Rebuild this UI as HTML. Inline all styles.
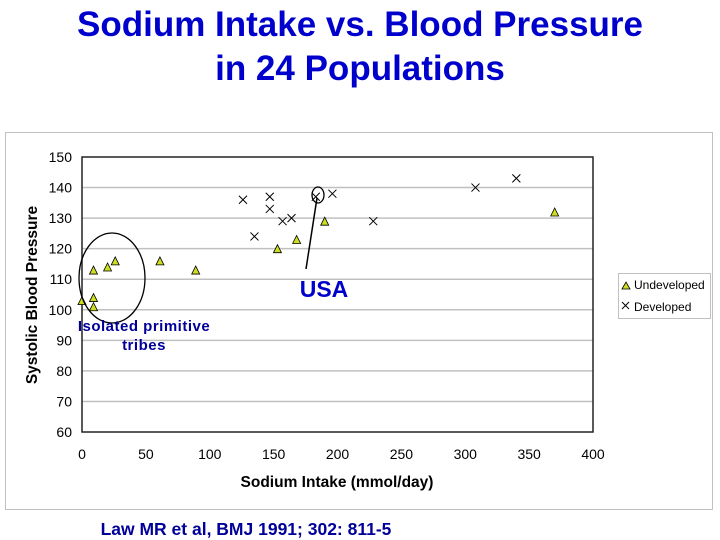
<!DOCTYPE html>
<html><head><meta charset="utf-8"><style>
body{margin:0;width:720px;height:540px;background:#fff;overflow:hidden;font-family:"Liberation Sans",Arial,sans-serif}
svg{display:block}
</style></head><body>
<svg id="chart" width="720" height="540">
<text x="360" y="36" text-anchor="middle" font-size="35" font-weight="bold" fill="#0000cc">Sodium Intake vs. Blood Pressure</text>
<text x="360" y="80" text-anchor="middle" font-size="35" font-weight="bold" fill="#0000cc">in 24 Populations</text>
<rect x="5.5" y="132.5" width="707" height="377" fill="#fff" stroke="#c0c0c0"/>
<g id="grid"></g>
<g id="axes"></g>
<g id="marks"></g>
<text transform="translate(37,295) rotate(-90)" text-anchor="middle" font-size="15.5" font-weight="bold" fill="#000">Systolic Blood Pressure</text>
<text x="337" y="487" text-anchor="middle" font-size="15.5" font-weight="bold" fill="#000">Sodium Intake (mmol/day)</text>
<ellipse cx="112" cy="278" rx="33" ry="45" fill="none" stroke="#000" stroke-width="1.3"/>
<text x="144" y="331" text-anchor="middle" font-size="15" font-weight="bold" fill="#000099" letter-spacing="0.5">Isolated primitive</text>
<text x="144" y="350" text-anchor="middle" font-size="15" font-weight="bold" fill="#000099" letter-spacing="0.5">tribes</text>
<ellipse cx="318" cy="195" rx="6" ry="8" fill="none" stroke="#000" stroke-width="1.3"/>
<line x1="306" y1="269" x2="317" y2="198" stroke="#000" stroke-width="1.5"/>
<text x="324" y="297" text-anchor="middle" font-size="23" font-weight="bold" fill="#0000cc">USA</text>
<g>
<rect x="618.5" y="273.5" width="92" height="45" fill="#fff" stroke="#c0c0c0"/>
<polygon points="622,289 626,282 630,289" fill="#ccdd22" stroke="#000" stroke-width="0.8"/>
<text x="634" y="289" font-size="12">Undeveloped</text>
<path d="M622,302 l7,7 M629,302 l-7,7" stroke="#000" stroke-width="1"/>
<text x="634" y="311" font-size="12">Developed</text>
</g>
<text x="246" y="535" text-anchor="middle" font-size="17.5" font-weight="bold" fill="#000099">Law MR et al, BMJ 1991; 302: 811-5</text>
</svg>
<script>
const xTicks=[0,50,100,150,200,250,300,350,400];
const yTicks=[60,70,80,90,100,110,120,130,140,150];
const undevX=[0,9,9,9,20,26,61,89,153,168,190,370];
const undevY=[103,113,104,101,114,116,116,113,120,123,129,132];
const devX=[126,135,147,147,157,164,183,196,228,308,340];
const devY=[136,124,137,133,129,130,137,138,129,140,143];
const NS="http://www.w3.org/2000/svg";
const X0=82,X1=593,Y0=432,Y1=157;
const sx=v=>X0+(v-0)/(400-0)*(X1-X0);
const sy=v=>Y0-(v-60)/(150-60)*(Y0-Y1);
function mk(tag,attrs,parent){const e=document.createElementNS(NS,tag);for(const k in attrs)e.setAttribute(k,attrs[k]);parent.appendChild(e);return e;}
const grid=document.getElementById('grid'),axes=document.getElementById('axes'),marks=document.getElementById('marks');
yTicks.forEach(t=>{
 if(t>60&&t<150){const l=mk('line',{x1:X0,x2:X1,y1:sy(t),y2:sy(t),stroke:'#c0c0c0','stroke-width':1.5},grid);
 
 }
 const tx=mk('text',{x:X0-10,y:sy(t)+5,'text-anchor':'end','font-size':14},axes);tx.textContent=t;
 
 
});
xTicks.forEach(t=>{
 const tx=mk('text',{x:sx(t),y:Y0+27,'text-anchor':'middle','font-size':14},axes);tx.textContent=t;
 
 
});
const box=mk('rect',{x:X0,y:Y1,width:X1-X0,height:Y0-Y1,fill:'none',stroke:'#222','stroke-width':1.5},axes);


undevX.forEach((v,i)=>{
 const x=sx(v),y=sy(undevY[i]);
 const p=mk('polygon',{points:`${x-4},${y+4} ${x},${y-4} ${x+4},${y+4}`,fill:'#ccdd22',stroke:'#000','stroke-width':0.8},marks);
 
 
});
devX.forEach((v,i)=>{
 const x=sx(v),y=sy(devY[i]);
 const p=mk('path',{d:`M${x-4},${y-4} L${x+4},${y+4} M${x+4},${y-4} L${x-4},${y+4}`,stroke:'#000','stroke-width':1},marks);
 
 
});
</script>
</body></html>
